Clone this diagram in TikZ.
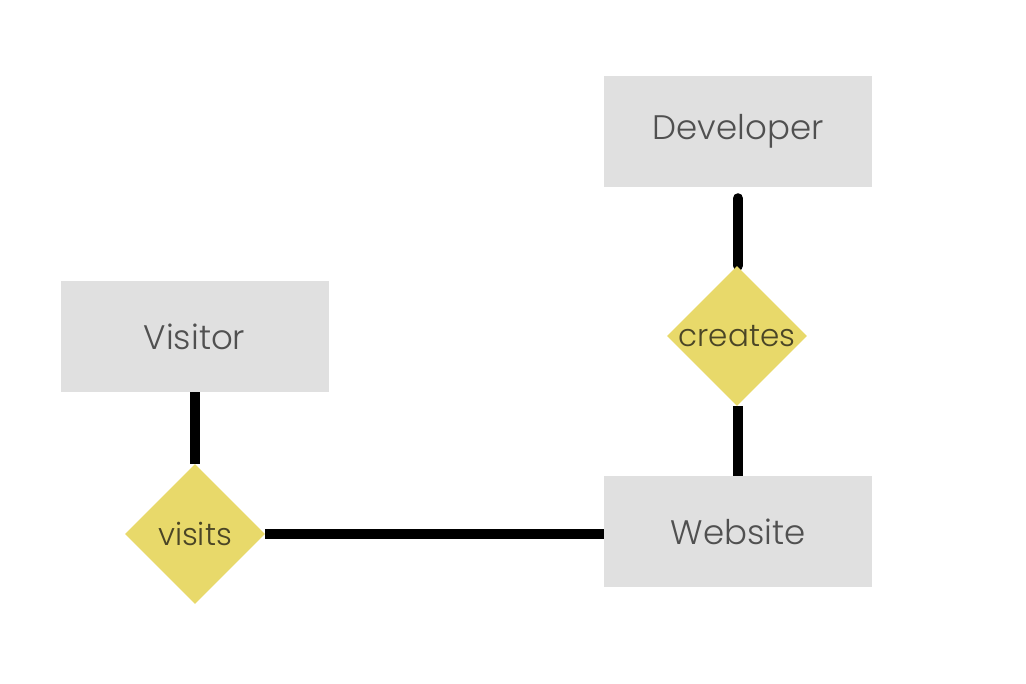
\documentclass[tikz,border=0pt]{standalone}
\usepackage{fontspec}
\setmainfont{Poppins Light}
\usetikzlibrary{shapes.geometric,backgrounds}
\definecolor{boxgray}{HTML}{E0E0E0}
\definecolor{diayellow}{HTML}{E8D96A}
\definecolor{txtgray}{HTML}{505050}
\definecolor{diatxt}{HTML}{4A4526}
\tikzset{
  entity/.style={rectangle, fill=boxgray, draw=none, minimum width=268pt, minimum height=111pt, inner sep=0pt, text=txtgray, font=\fontsize{34}{40}\selectfont},
  relation/.style={diamond, fill=diayellow, draw=none, minimum width=140pt, minimum height=140pt, inner sep=0pt, text=diatxt, font=\fontsize{31}{36}\selectfont},
  link/.style={line width=10pt, black}
}
\begin{document}
\begin{tikzpicture}[x=1pt,y=-1pt]
\useasboundingbox (0,0) rectangle (1026,684);
\node[entity] (dev) at (738,131.5) {Developer};
\node[entity] (vis) at (194.5,336.5) {Visitor};
\node[entity] (web) at (738,531.5) {Website};
\node[relation] (cre) at (737,336) {creates};
\node[relation] (vst) at (195,534) {visits};
\begin{pgfonlayer}{background}
\draw[link, line cap=round, shorten <=11pt] (dev.south) -- (dev.south |- cre.north);
\draw[link] (cre.south -| web.north) -- (web.north);
\draw[link] (vis.south -| vst.north) -- (vst.north);
\draw[link] (vst.east) -- (vst.east -| web.west);
\end{pgfonlayer}
\end{tikzpicture}
\end{document}
